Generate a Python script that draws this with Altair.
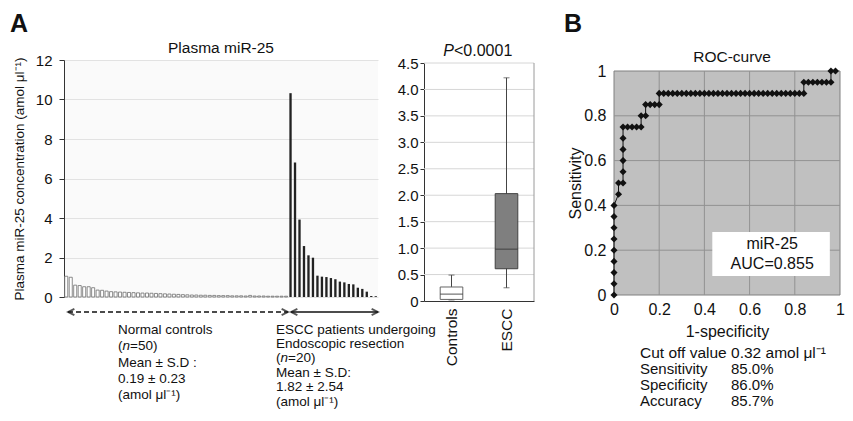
import altair as alt
import pandas as pd

FONT = "Liberation Sans"
INK = "#111111"

# ---------------- Panel A: individual plasma miR-25 values ----------------
control_values = [1.05, 1.0, 0.6, 0.58, 0.52, 0.52, 0.47, 0.35, 0.34, 0.3,
                  0.27, 0.26, 0.25, 0.24, 0.23, 0.22, 0.21, 0.2, 0.2, 0.19,
                  0.18, 0.17, 0.16, 0.15, 0.14, 0.13, 0.12, 0.11, 0.1, 0.1,
                  0.09, 0.09, 0.08, 0.08, 0.07, 0.07, 0.07, 0.06, 0.06, 0.06,
                  0.05, 0.08, 0.05, 0.05, 0.05, 0.04, 0.04, 0.04, 0.04, 0.04]
escc_values = [10.32, 6.81, 3.92, 2.58, 2.11, 1.99, 1.08, 1.03, 1.01, 0.96,
               0.90, 0.78, 0.74, 0.66, 0.64, 0.47, 0.41, 0.27, 0.05, 0.04]
bar_ticks = [0, 2, 4, 6, 8, 10, 12]

# ---------------- Panel A: box plot summary ----------------
box_groups = ["Controls", "ESCC"]
box_min = [0.02, 0.25]
box_q1 = [0.03, 0.61]
box_median = [0.13, 0.98]
box_q3 = [0.265, 2.03]
box_max = [0.49, 4.22]
box_ticks = [0, 0.5, 1.0, 1.5, 2.0, 2.5, 3.0, 3.5, 4.0, 4.5]
box_grid = [0.5, 1.0, 1.5, 2.0, 2.5, 3.0, 3.5, 4.0, 4.5]

# ---------------- Panel B: ROC curve ----------------
roc_fpr = [0, 0, 0, 0, 0, 0, 0, 0, 0,
           0.02, 0.02,
           0.04, 0.04, 0.04, 0.04, 0.04, 0.04,
           0.06, 0.08, 0.10, 0.12,
           0.12, 0.14,
           0.14, 0.16, 0.18, 0.20,
           0.20, 0.22, 0.24, 0.26, 0.28, 0.30, 0.32, 0.34, 0.36, 0.38, 0.40,
           0.42, 0.44, 0.46, 0.48, 0.50, 0.52, 0.54, 0.56, 0.58, 0.60, 0.62,
           0.64, 0.66, 0.68, 0.70, 0.72, 0.74, 0.76, 0.78, 0.80, 0.82, 0.84,
           0.84, 0.86, 0.88, 0.90, 0.92, 0.94, 0.96,
           0.96, 0.98]
roc_tpr = [0, 0.05, 0.10, 0.15, 0.20, 0.25, 0.30, 0.35, 0.40,
           0.45, 0.50,
           0.50, 0.55, 0.60, 0.65, 0.70, 0.75,
           0.75, 0.75, 0.75, 0.75,
           0.80, 0.80,
           0.85, 0.85, 0.85, 0.85,
           0.90, 0.90, 0.90, 0.90, 0.90, 0.90, 0.90, 0.90, 0.90, 0.90, 0.90,
           0.90, 0.90, 0.90, 0.90, 0.90, 0.90, 0.90, 0.90, 0.90, 0.90, 0.90,
           0.90, 0.90, 0.90, 0.90, 0.90, 0.90, 0.90, 0.90, 0.90, 0.90, 0.90,
           0.95, 0.95, 0.95, 0.95, 0.95, 0.95, 0.95,
           1.0, 1.0]
roc_ticks = [0, 0.2, 0.4, 0.6, 0.8, 1]
roc_grid = [0.2, 0.4, 0.6, 0.8]

# ---------------- helpers for annotations ----------------
one = alt.Data(values=[{"k": 0}])


def txt(text, x, y, size=13.5, align="left", baseline="alphabetic", **kw):
    return alt.Chart(one).mark_text(text=text, fontSize=size, align=align,
                                    baseline=baseline, font=FONT, color=INK,
                                    **kw).encode(x=alt.value(x), y=alt.value(y))


def n_line(x, y, rest, size=13.5):
    # "(n=..)" with an italic n
    return [txt("(", x, y, size=size),
            txt("n", x + 0.333 * size, y, size=size, fontStyle="italic"),
            txt(rest, x + 0.889 * size, y, size=size)]


def hrule(x1, x2, y, **kw):
    return alt.Chart(one).mark_rule(color=INK, strokeWidth=1.4, **kw).encode(
        x=alt.value(x1), x2=alt.value(x2), y=alt.value(y))


def head(x, y, left=True):
    path = "M1,-1L-1,0L1,1" if left else "M-1,-1L1,0L-1,1"
    return alt.Chart(one).mark_point(shape=path, filled=False, color=INK,
                                     strokeWidth=1.8, size=40).encode(
        x=alt.value(x), y=alt.value(y))


# ---------------- Panel A bars ----------------
n_c = len(control_values)
n_all = n_c + len(escc_values)
bar_df = pd.DataFrame({
    "idx": list(range(n_all)),
    "value": control_values + escc_values,
    "group": ["Normal controls"] * n_c + ["ESCC"] * len(escc_values),
})

x_bar = alt.X("idx:O", scale=alt.Scale(domain=list(range(n_all)), paddingInner=0, paddingOuter=0),
              axis=None)
y_bar = alt.Y("value:Q", scale=alt.Scale(domain=[0, 12]),
              axis=alt.Axis(values=bar_ticks, title="Plasma miR-25 concentration (amol μl⁻¹)",
                            titleFontSize=13.5, titleFontWeight="normal", titleX=-45,
                            titleBaseline="middle", labelFontSize=15, labelPadding=7,
                            tickSize=5, tickColor="#333", domainColor="#333",
                            gridColor="#e2e2e2", grid=True))

ctrl_bars = alt.Chart(bar_df).transform_filter(alt.datum.group == "Normal controls").mark_bar(
    width={"band": 0.68}, fill="white", stroke="#6e6e6e", strokeWidth=0.8).encode(x=x_bar, y=y_bar)
escc_bars = alt.Chart(bar_df).transform_filter(alt.datum.group == "ESCC").mark_bar(
    width={"band": 0.52}, color="#222222").encode(x=x_bar, y=y_bar)

bar_panel = alt.layer(
    ctrl_bars, escc_bars,
    txt("A", -54, -28, size=25, fontWeight="bold"),
    txt("Plasma miR-25", 157, -7.5, size=15.5, align="center"),
    hrule(4, 224, 252, strokeDash=[5, 3]), head(7.2, 252, True), head(220.8, 252, False),
    hrule(227, 314, 252), head(230.2, 252, True), head(310.8, 252, False),
    txt("Normal controls", 54, 273.5),
    *n_line(54, 289.5, "=50)"),
    txt(["Mean ± S.D :", "0.19 ± 0.23", "(amol μl⁻¹)"], 54, 306.5, lineHeight=16.2),
    txt(["ESCC patients undergoing", "Endoscopic resection"], 212, 273.5, lineHeight=14.8),
    *n_line(212, 302, "=20)"),
    txt(["Mean ± S.D:", "1.82 ± 2.54", "(amol μl⁻¹)"], 212, 316.5, lineHeight=14.6),
).properties(width=314, height=237, view=alt.ViewBackground(fill="#fafafa", stroke=None))

# ---------------- Panel A box plot ----------------
box_df = pd.DataFrame({"group": box_groups, "lo": box_min, "q1": box_q1,
                       "med": box_median, "q3": box_q3, "hi": box_max})
x_box = alt.X("group:N", scale=alt.Scale(domain=box_groups, range=[0, 110], paddingInner=0,
                                         paddingOuter=0),
              axis=alt.Axis(title=None, labelAngle=-90, labelAlign="right", labelBaseline="middle",
                            labelFontSize=15.5, labelPadding=7, ticks=False, domainColor="#333"))
box_scale = alt.Scale(domain=[0, 4.5], range=[241, 3])
box_axis = alt.Axis(values=box_ticks, labelExpr="datum.value == 0 ? '0' : format(datum.value, '.1f')",
                    title=None, grid=False, tickSize=4, tickColor="#333", labelPadding=2,
                    labelFontSize=15, domainColor="#333")


def ybox(field):
    return alt.Y(field, scale=box_scale, axis=box_axis)


grid_df = pd.DataFrame({"v": box_grid})
box_gridlines = alt.Chart(grid_df).mark_rule(color="#d6d6d6").encode(
    x=alt.value(0), x2=alt.value(110), y=ybox("v:Q"))
box_right = alt.Chart(one).mark_rule(color="#9a9a9a").encode(
    x=alt.value(110), y=alt.value(3), y2=alt.value(241))
whisk = alt.Chart(box_df).mark_rule(color="#444444", strokeWidth=1).encode(
    x=x_box, y=ybox("lo:Q"), y2="hi:Q")
caps_hi = alt.Chart(box_df).mark_tick(size=6, thickness=1, color="#444444").encode(x=x_box, y=ybox("hi:Q"))
caps_lo = alt.Chart(box_df).mark_tick(size=6, thickness=1, color="#444444").encode(x=x_box, y=ybox("lo:Q"))
boxes = alt.Chart(box_df).mark_bar(width=22.6, strokeWidth=1).encode(
    x=x_box, y=ybox("q1:Q"), y2="q3:Q",
    fill=alt.Fill("group:N", scale=alt.Scale(domain=box_groups, range=["#ffffff", "#7f7f7f"]), legend=None),
    stroke=alt.Stroke("group:N", scale=alt.Scale(domain=box_groups, range=["#666666", "#404040"]), legend=None))
medians = alt.Chart(box_df).mark_tick(size=22.6, thickness=1.2, color="#333333").encode(
    x=x_box, y=ybox("med:Q"))

box_panel = alt.layer(
    box_gridlines, box_right, whisk, caps_hi, caps_lo, boxes, medians,
    txt("P", 30, -4.5, size=16, align="right", fontStyle="italic"),
    txt("<0.0001", 30, -4.5, size=16, align="left"),
).properties(width=144, height=241, view=alt.ViewBackground(fill=None, stroke=None))

# ---------------- Panel B ROC ----------------
roc_df = pd.DataFrame({"i": list(range(len(roc_fpr))), "fpr": roc_fpr, "tpr": roc_tpr})
x_scale = alt.Scale(domain=[0, 1], nice=False)
y_scale = alt.Scale(domain=[0, 1], range=[235, 11], nice=False)
x_axis = alt.Axis(values=roc_ticks, format="~g", title="1-specificity", titleFontSize=16,
                  titleFontWeight="normal", titleY=41, titleBaseline="alphabetic", grid=False,
                  domain=False, ticks=False, labelPadding=6, labelFontSize=16)
y_axis = alt.Axis(values=roc_ticks, format="~g", title="Sensitivity", titleFontSize=16,
                  titleFontWeight="normal", titleX=-39, titleBaseline="middle", grid=False,
                  domain=False, ticks=False, labelPadding=8, labelFontSize=16)


def xr(field):
    return alt.X(field, scale=x_scale, axis=x_axis)


def yr(field):
    return alt.Y(field, scale=y_scale, axis=y_axis)


frame_df = pd.DataFrame({"x0": [0], "x1": [1], "y0": [0], "y1": [1]})
roc_bg = alt.Chart(frame_df).mark_rect(fill="#c0c0c0", stroke="#808080", strokeWidth=1).encode(
    x=xr("x0:Q"), x2="x1:Q", y=yr("y0:Q"), y2="y1:Q")
rg_df = pd.DataFrame({"g": roc_grid, "lo": [0] * len(roc_grid), "hi": [1] * len(roc_grid)})
vgrid = alt.Chart(rg_df).mark_rule(color="#929292").encode(x=xr("g:Q"), y=yr("lo:Q"), y2="hi:Q")
hgrid = alt.Chart(rg_df).mark_rule(color="#929292").encode(y=yr("g:Q"), x=xr("lo:Q"), x2="hi:Q")
roc_line = alt.Chart(roc_df).mark_line(color="#111111", strokeWidth=1).encode(
    x=xr("fpr:Q"), y=yr("tpr:Q"), order="i:Q")
roc_pts = alt.Chart(roc_df).mark_point(shape="diamond", filled=True, color="#111111", size=50,
                                       opacity=1).encode(x=xr("fpr:Q"), y=yr("tpr:Q"))
leg_df = pd.DataFrame({"x0": [0.435], "x1": [0.955], "y0": [0.085], "y1": [0.281]})
leg_box = alt.Chart(leg_df).mark_rect(fill="white").encode(
    x=xr("x0:Q"), x2="x1:Q", y=yr("y0:Q"), y2="y1:Q")
leg_txt = pd.DataFrame({"x": [0.70, 0.70], "y": [0.228, 0.138], "t": ["miR-25", "AUC=0.855"]})
leg_text = alt.Chart(leg_txt).mark_text(fontSize=16, font=FONT, color=INK, baseline="middle").encode(
    x=xr("x:Q"), y=yr("y:Q"), text="t:N")

roc_panel = alt.layer(
    roc_bg, vgrid, hgrid, roc_line, roc_pts, leg_box, leg_text,
    txt("B", -50, -28, size=25, fontWeight="bold"),
    txt("ROC-curve", 118, 2.3, size=15.5, align="center"),
    txt("Cut off value 0.32 amol μl⁻¹", 26, 298, size=15.5),
    txt("Sensitivity", 26, 314, size=15), txt("85.0%", 117, 314, size=15),
    txt("Specificity", 26, 330, size=15), txt("86.0%", 117, 330, size=15),
    txt("Accuracy", 26, 346, size=15), txt("85.7%", 117, 346, size=15),
).properties(width=226, height=235, view=alt.ViewBackground(fill=None, stroke=None))

chart = alt.hconcat(bar_panel, box_panel, roc_panel, spacing=46, bounds="flush").properties(
    padding={"left": 2, "top": 4, "right": 0, "bottom": 0}
).configure(font=FONT).configure_axis(
    labelFont=FONT, titleFont=FONT, labelColor=INK, titleColor=INK,
    labelFlush=False, labelOverlap=False
).configure_view(stroke=None)

chart.save("out.html", embed_options={"renderer": "svg", "actions": False})
